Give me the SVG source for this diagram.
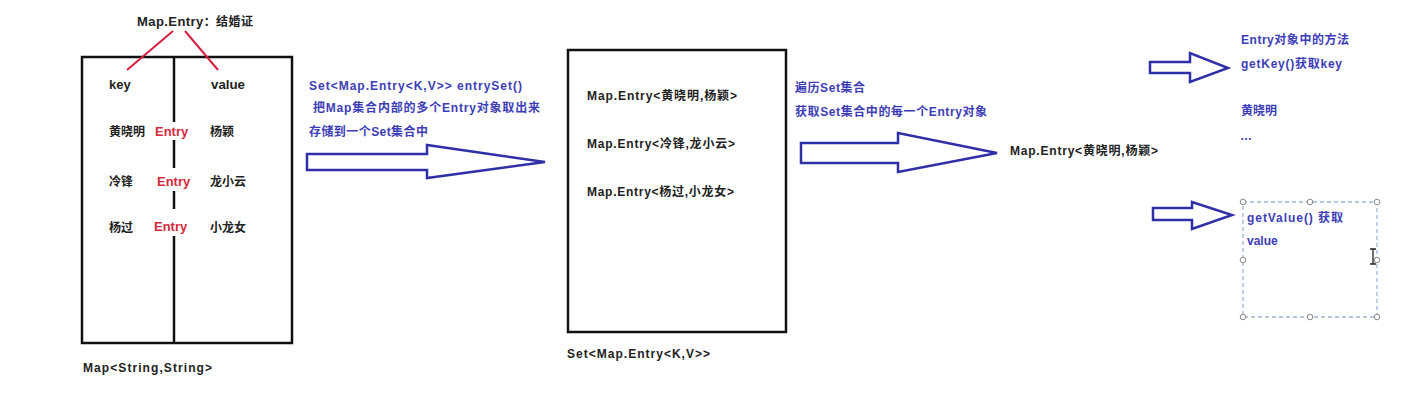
<svg xmlns="http://www.w3.org/2000/svg" width="1401" height="408" viewBox="0 0 1401 408">
<style>
.t{font-family:"Liberation Sans","Noto Sans CJK SC",sans-serif;font-weight:bold;font-size:12px;fill:#222}
.b{fill:#3d3db8}
.r{fill:#d42a3c;font-size:13px}
.k{font-size:13px}
.box{fill:#fff;stroke:#111;stroke-width:2.5}
.arrow{fill:#fff;stroke:#2f2fa8;stroke-width:2.5;stroke-linejoin:miter}
.red{stroke:#d42040;stroke-width:2;fill:none}
.h{fill:#fff;stroke:#888;stroke-width:1}
</style>
<rect width="1401" height="408" fill="#fff"/>

<g id="map">
  <rect class="box" x="82" y="57" width="210" height="286"/>
  <g stroke="#111" stroke-width="2.5">
    <line x1="174" y1="57" x2="174" y2="122"/>
    <line x1="174" y1="140" x2="174" y2="168"/>
    <line x1="174" y1="191" x2="174" y2="209"/>
    <line x1="174" y1="236" x2="174" y2="343"/>
  </g>
  <text class="t k" x="109" y="89">key</text>
  <text class="t k" x="211" y="89" textLength="34" lengthAdjust="spacingAndGlyphs">value</text>
  <text class="t" x="109" y="136">黄晓明</text>
  <text class="t r" x="155" y="136">Entry</text>
  <text class="t" x="210" y="136">杨颖</text>
  <text class="t" x="109" y="186">冷锋</text>
  <text class="t r" x="157" y="186">Entry</text>
  <text class="t" x="210" y="186">龙小云</text>
  <text class="t" x="109" y="232">杨过</text>
  <text class="t r" x="154" y="231">Entry</text>
  <text class="t" x="210" y="232">小龙女</text>
  <text class="t" x="83" y="372" textLength="129">Map&lt;String,String&gt;</text>
</g>

<g id="entry-title">
  <text class="t k" x="137" y="26" textLength="116">Map.Entry<tspan font-size="12">：结婚证</tspan></text>
</g>

<g id="set">
  <rect class="box" x="568" y="50" width="218" height="282"/>
  <text class="t" x="587" y="100" textLength="150">Map.Entry&lt;黄晓明,杨颖&gt;</text>
  <text class="t" x="587" y="148" textLength="148">Map.Entry&lt;冷锋,龙小云&gt;</text>
  <text class="t" x="587" y="196" textLength="147">Map.Entry&lt;杨过,小龙女&gt;</text>
  <text class="t" x="567" y="358" textLength="143">Set&lt;Map.Entry&lt;K,V&gt;&gt;</text>
</g>

<g id="entryset-label">
  <text class="t b" x="309" y="90" textLength="213">Set&lt;Map.Entry&lt;K,V&gt;&gt; entrySet()</text>
  <text class="t b" x="313" y="112" textLength="227">把Map集合内部的多个Entry对象取出来</text>
  <text class="t b" x="309" y="136" textLength="119">存储到一个Set集合中</text>
</g>

<g id="iterate-label">
  <text class="t b" x="795" y="92" textLength="70">遍历Set集合</text>
  <text class="t b" x="795" y="116" textLength="192">获取Set集合中的每一个Entry对象</text>
</g>

<g id="single-entry">
  <text class="t" x="1010" y="155" textLength="148">Map.Entry&lt;黄晓明,杨颖&gt;</text>
</g>

<g id="getkey">
  <text class="t b" x="1241" y="44" textLength="108">Entry对象中的方法</text>
  <text class="t b" x="1241" y="68" textLength="101">getKey()获取key</text>
  <text class="t b" x="1241" y="115">黄晓明</text>
  <text class="t b" x="1240" y="140">…</text>
</g>

<g id="getvalue">
  <rect x="1243" y="202" width="134" height="115" fill="none" stroke="#9db6d8" stroke-width="1.3" stroke-dasharray="4,3"/>
  <circle class="h" cx="1243" cy="202" r="2.8"/>
  <circle class="h" cx="1310" cy="202" r="2.8"/>
  <circle class="h" cx="1377" cy="202" r="2.8"/>
  <circle class="h" cx="1243" cy="260" r="2.8"/>
  <circle class="h" cx="1377" cy="260" r="2.8"/>
  <circle class="h" cx="1243" cy="317" r="2.8"/>
  <circle class="h" cx="1310" cy="317" r="2.8"/>
  <circle class="h" cx="1377" cy="317" r="2.8"/>
  <text class="t b" x="1247" y="222" textLength="96">getValue() 获取</text>
  <text class="t b" x="1247" y="245">value</text>
  <path d="M1370 249h6M1373 249v15M1370 264h6" stroke="#222" stroke-width="1.3" fill="none"/>
</g>

<g id="connectors">
  <line class="red" x1="173" y1="31" x2="127" y2="70"/>
  <line class="red" x1="185" y1="31" x2="218" y2="70"/>
  <polygon class="arrow" points="307,154 427,154 427,145 545,162 427,178 427,170 307,170"/>
  <polygon class="arrow" points="801,143 898,143 898,133 997,153 898,172 898,163 801,163"/>
  <polygon class="arrow" points="1150,62 1190,62 1190,53 1228,68 1190,82 1190,73 1150,73"/>
  <polygon class="arrow" points="1153,208 1192,208 1192,202 1232,215 1192,229 1192,220 1153,220"/>
</g>
</svg>
